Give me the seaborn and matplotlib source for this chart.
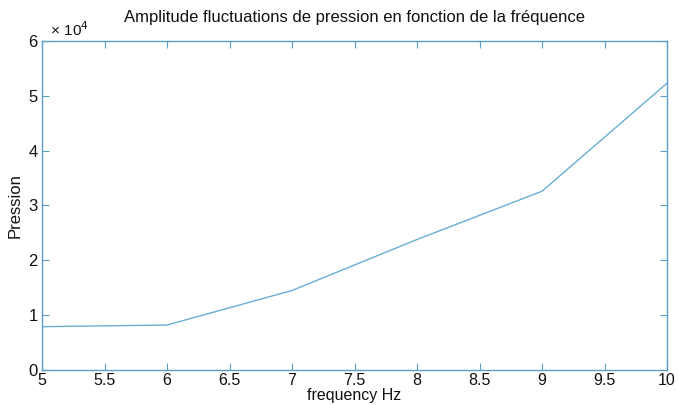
import matplotlib
matplotlib.use("Agg")
import matplotlib.pyplot as plt
import seaborn as sns
import pandas as pd
from matplotlib.ticker import FuncFormatter, MultipleLocator

freq = [5, 6, 7, 8, 9, 10]
pression = [7900, 8200, 14500, 23800, 32600, 52300]
title = "Amplitude fluctuations de pression en fonction de la fréquence"
xlabel = "frequency Hz"
ylabel = "Pression"

sns.set_theme(style="white")
plt.rcParams['font.family'] = ['Liberation Sans', 'DejaVu Sans']

df = pd.DataFrame({"freq": freq, "pression": pression})

fig = plt.figure(figsize=(6.78, 4.05), dpi=100)
ax = fig.add_axes([42/678, 1-370/405, (667-42)/678, (370-41)/405])
line_col = "#6aaed6"
spine_col = "#5b9fc7"
sns.lineplot(data=df, x="freq", y="pression", ax=ax, color=line_col, linewidth=1.0)

ax.set_xlim(5, 10)
ax.set_ylim(0, 60000)
ax.xaxis.set_major_locator(MultipleLocator(0.5))
ax.yaxis.set_major_locator(MultipleLocator(10000))
ax.xaxis.set_major_formatter(FuncFormatter(lambda v, p: f"{v:g}"))
ax.yaxis.set_major_formatter(FuncFormatter(lambda v, p: f"{v/1e4:g}"))

for s in ax.spines.values():
    s.set_color(spine_col)
    s.set_linewidth(1.0)
ax.tick_params(direction="in", length=5, width=0.8, color=spine_col,
               labelsize=12, labelcolor="#111111", top=True, right=True,
               bottom=True, left=True, pad=3)
ax.tick_params(axis="x", labelsize=11.5, pad=2)

ax.set_xlabel(xlabel, fontsize=11.5, color="#111111", labelpad=0)
ax.set_ylabel(ylabel, fontsize=12, color="#111111", labelpad=4)
ax.set_title(title, fontsize=12, color="#111111", pad=14)
ax.text(0.0, 1.005, "  × 10$^4$", transform=ax.transAxes, fontsize=11,
        color="#111111", ha="left", va="bottom")

fig.savefig("out.png", dpi=100, facecolor="white")
